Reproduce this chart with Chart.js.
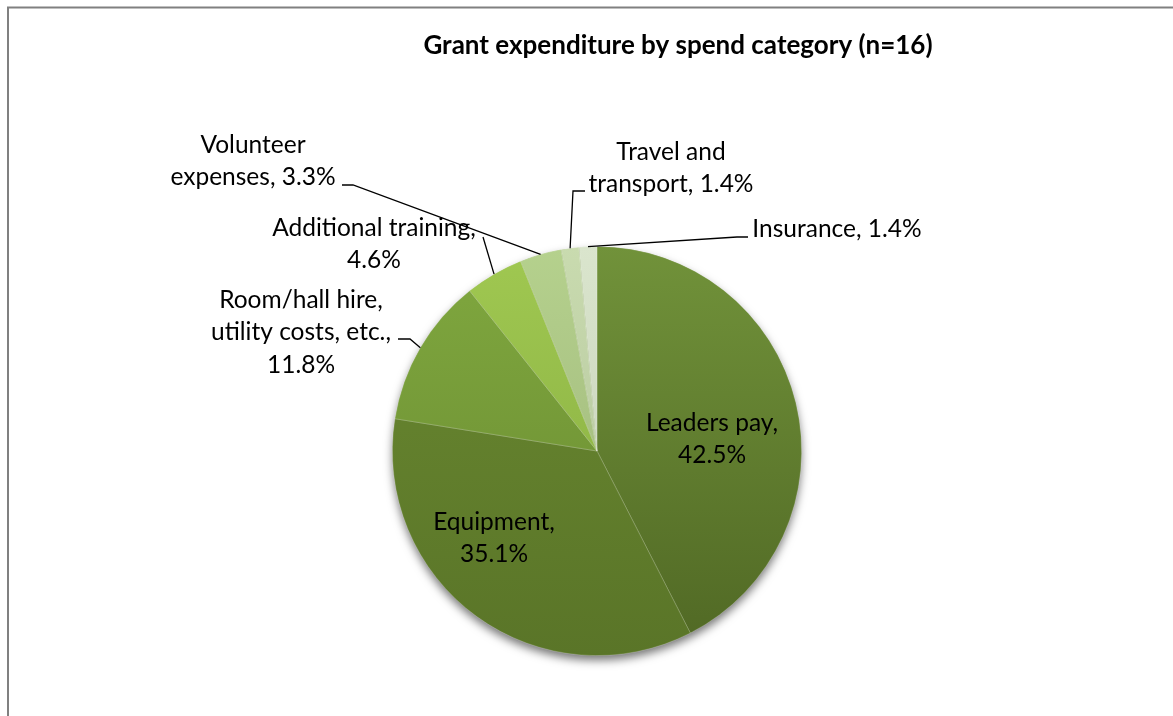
<!DOCTYPE html>
<html>
<head>
<meta charset="utf-8">
<script src="https://cdn.jsdelivr.net/npm/chart.js@4.4.1/dist/chart.umd.min.js"></script>
<style>
  html, body { margin: 0; padding: 0; background: #fff; }
  #wrap { width: 1173px; height: 716px; position: relative; }
</style>
</head>
<body>
<div id="wrap"><canvas id="c" width="1173" height="716"></canvas></div>
<script>
// ---- data ----
const chartTitle = "Grant expenditure by spend category (n=16)";
const categories = ["Leaders pay", "Equipment", "Room/hall hire, utility costs, etc.", "Additional training", "Volunteer expenses", "Travel and transport", "Insurance"];
const values = [42.5, 35.1, 11.8, 4.6, 3.3, 1.4, 1.4];
const labelLines = [
  ["Leaders pay,", "42.5%"],
  ["Equipment,", "35.1%"],
  ["Room/hall hire,", "utility costs, etc.,", "11.8%"],
  ["Additional training,", "4.6%"],
  ["Volunteer", "expenses, 3.3%"],
  ["Travel and", "transport, 1.4%"],
  ["Insurance, 1.4%"]
];

// ---- styles ----
const colorsTop = ["#71923a", "#6a8931", "#80a83f", "#a0c851", "#b5d18d", "#c9dbaf", "#dae5cd"];
const colorsBottom = ["#506824", "#5a7528", "#688930", "#84aa3f", "#9bb178", "#aebf98", "#c1cbb4"];

// label layout relative to pie centre (px); leader: start point & optional elbow
const labelLayout = [
  { dx: 115, dy: -28 },
  { dx: -103, dy: 71 },
  { dx: -296, dy: -151, leader: [[-199, -112], [-187, -112]] },
  { dx: -223, dy: -223, leader: [[-114, -214]] },
  { dx: -344, dy: -306, leader: [[-255, -266], [-244, -266]] },
  { dx: 74, dy: -299, leader: [[-12, -260], [-24, -260]] },
  { dx: 240, dy: -222, leader: [[151, -214], [140, -214]] }
];
const lineHeight = 32.5;
const labelFont = '24.5px Lato, "Open Sans", sans-serif';

function gradFor(ctx, i) {
  const chart = ctx.chart;
  const a = chart.chartArea;
  if (!a) return colorsTop[i];
  const g = chart.ctx.createLinearGradient(0, a.top, 0, a.bottom);
  g.addColorStop(0, colorsTop[i]);
  g.addColorStop(1, colorsBottom[i]);
  return g;
}

const decor = {
  id: 'decor',
  beforeDraw(chart) {
    const c = chart.ctx;
    c.save();
    c.fillStyle = '#fff';
    c.fillRect(0, 0, chart.width, chart.height);
    c.strokeStyle = '#808080';
    c.lineWidth = 2;
    c.beginPath();
    c.moveTo(8, chart.height);
    c.lineTo(8, 7.5);
    c.lineTo(chart.width, 7.5);
    c.stroke();
    // title
    c.fillStyle = '#000';
    c.font = 'bold 26px Lato, "Open Sans", sans-serif';
    c.textAlign = 'center';
    c.textBaseline = 'middle';
    c.fillText(chartTitle, 678, 46);
    c.restore();
  },
  beforeDatasetsDraw(chart) {
    const meta = chart.getDatasetMeta(0);
    const el = meta.data[0];
    if (!el) return;
    const c = chart.ctx;
    c.save();
    c.shadowColor = 'rgba(0,0,0,0.55)';
    c.shadowBlur = 10;
    c.shadowOffsetX = 0;
    c.shadowOffsetY = 5;
    c.fillStyle = '#5d7829';
    c.beginPath();
    c.arc(el.x, el.y, el.outerRadius - 0.5, 0, Math.PI * 2);
    c.fill();
    c.restore();
  },
  afterDatasetsDraw(chart) {
    const meta = chart.getDatasetMeta(0);
    const c = chart.ctx;
    c.save();
    c.font = labelFont;
    c.fillStyle = '#000';
    c.textAlign = 'center';
    c.textBaseline = 'middle';
    meta.data.forEach((el, i) => {
      const lay = labelLayout[i];
      const cx = el.x, cy = el.y;
      const lines = labelLines[i];
      lines.forEach((t, k) => c.fillText(t, cx + lay.dx, cy + lay.dy + k * lineHeight));
      if (lay.leader) {
        const mid = (el.startAngle + el.endAngle) / 2;
        const ex = cx + Math.cos(mid) * el.outerRadius;
        const ey = cy + Math.sin(mid) * el.outerRadius;
        c.strokeStyle = '#000';
        c.lineWidth = 1.3;
        c.beginPath();
        lay.leader.forEach((p, k) => {
          if (k === 0) c.moveTo(cx + p[0], cy + p[1]); else c.lineTo(cx + p[0], cy + p[1]);
        });
        c.lineTo(ex, ey);
        c.stroke();
      }
    });
    c.restore();
  }
};

new Chart(document.getElementById('c'), {
  type: 'pie',
  data: {
    labels: categories,
    datasets: [{
      data: values,
      backgroundColor: (ctx) => gradFor(ctx, ctx.dataIndex),
      borderColor: 'rgba(255,255,255,0.25)',
      borderWidth: 0.8
    }]
  },
  options: {
    responsive: false,
    animation: false,
    layout: { padding: { left: 392, right: 371, top: 246, bottom: 60 } },
    rotation: 0,
    plugins: {
      legend: { display: false },
      tooltip: { enabled: false },
      title: { display: false }
    }
  },
  plugins: [decor]
});
</script>
</body>
</html>
